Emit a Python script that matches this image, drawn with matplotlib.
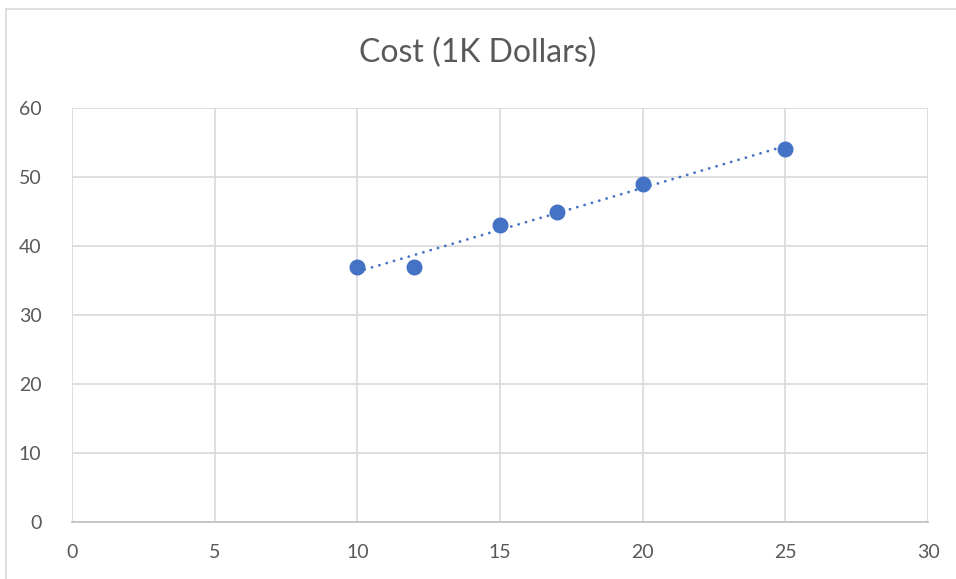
import numpy as np
import matplotlib
matplotlib.use("Agg")
from matplotlib import pyplot as plt
from matplotlib.lines import Line2D

# data
x_vals = [10, 12, 15, 17, 20, 25]
cost = [37, 37, 43, 45, 49, 54]
x_ticks = [0, 5, 10, 15, 20, 25, 30]
y_ticks = [0, 10, 20, 30, 40, 50, 60]

point_color = '#4472C4'
grid_color = '#D9D9D9'
text_color = '#595959'

plt.rcParams['font.family'] = ['Lato', 'DejaVu Sans']

fig = plt.figure(figsize=(9.56, 5.79), dpi=100)
ax = fig.add_axes([72 / 956, 57 / 579, 856 / 956, 414 / 579])

# linear trendline over the data range
slope, intercept = np.polyfit(x_vals, cost, 1)
tx = np.array([min(x_vals), max(x_vals)])
ax.plot(tx, slope * tx + intercept, color=point_color, lw=2.0,
        linestyle=(0, (0.05, 2.7)), dash_capstyle='round', zorder=3)
ax.plot(x_vals, cost, 'o', color=point_color, markersize=10.5, zorder=4)

ax.set_xlim(0, 30)
ax.set_ylim(0, 60)
ax.set_xticks(x_ticks)
ax.set_yticks(y_ticks)
ax.grid(True, color=grid_color, lw=1.2)
ax.set_axisbelow(True)
for side in ['top', 'right', 'left']:
    ax.spines[side].set_visible(False)
ax.spines['bottom'].set_color('#BFBFBF')
ax.spines['bottom'].set_linewidth(1.2)
ax.tick_params(length=0, labelsize=14, colors=text_color)
ax.tick_params(axis='x', pad=16)
ax.tick_params(axis='y', pad=22)

fig.text(0.5, 1 - 53 / 579, 'Cost (1K Dollars)', ha='center', va='center',
         fontsize=23, color=text_color)

# chart border (top and left visible)
fig.add_artist(Line2D([6 / 956, 1], [1 - 9 / 579, 1 - 9 / 579], color=grid_color, lw=1.2))
fig.add_artist(Line2D([6 / 956, 6 / 956], [0, 1 - 9 / 579], color=grid_color, lw=1.2))

fig.savefig('out.png', dpi=100)
